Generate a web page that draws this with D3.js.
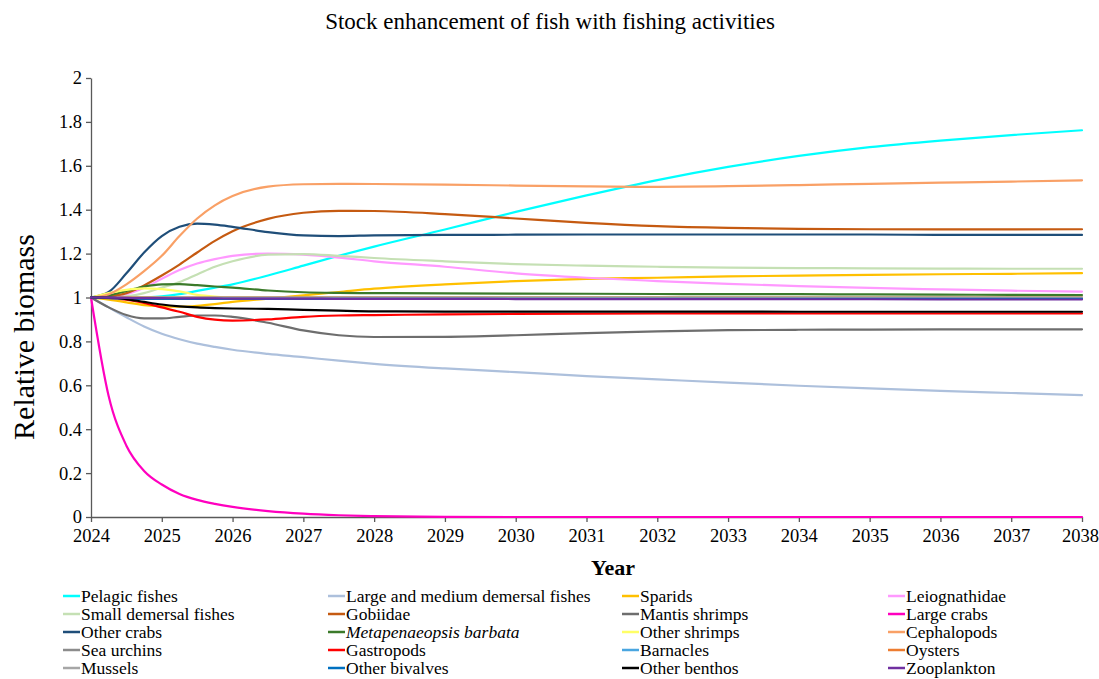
<!DOCTYPE html>
<html><head><meta charset="utf-8">
<script src="https://cdn.jsdelivr.net/npm/d3@7"></script>
<style>
body{margin:0;background:#fff}
svg{display:block}
svg text{font-family:"Liberation Serif","Times New Roman",Times,serif}
</style>
</head><body>
<svg id="c" width="1099" height="679"></svg>
<script>
const years = [2024, 2024.25, 2024.5, 2024.75, 2025, 2025.25, 2025.5, 2025.75, 2026, 2026.5, 2027, 2027.5, 2028, 2029, 2030, 2031, 2032, 2033, 2034, 2035, 2036, 2037, 2038];
const xTicks = [2024,2025,2026,2027,2028,2029,2030,2031,2032,2033,2034,2035,2036,2037,2038];
const yTicks = [0,0.2,0.4,0.6,0.8,1,1.2,1.4,1.6,1.8,2];

const pelagicFishes = [1, 0.998, 0.997, 1.0, 1.005, 1.015, 1.03, 1.045, 1.06, 1.1, 1.145, 1.19, 1.232, 1.31, 1.39, 1.465, 1.535, 1.595, 1.645, 1.685, 1.715, 1.74, 1.762];
const largeMediumDemersal = [1, 0.955, 0.91, 0.868, 0.835, 0.81, 0.79, 0.775, 0.762, 0.743, 0.728, 0.712, 0.698, 0.677, 0.66, 0.642, 0.627, 0.612, 0.598, 0.586, 0.575, 0.565, 0.555];
const sparids = [1, 0.99, 0.978, 0.965, 0.96, 0.958, 0.962, 0.97, 0.98, 0.995, 1.01, 1.025, 1.04, 1.06, 1.075, 1.085, 1.09, 1.096, 1.1, 1.103, 1.106, 1.108, 1.111];
const leiognathidae = [1, 1.002, 1.015, 1.045, 1.085, 1.125, 1.155, 1.175, 1.19, 1.2, 1.195, 1.182, 1.165, 1.14, 1.11, 1.09, 1.075, 1.062, 1.052, 1.044, 1.037, 1.031, 1.027];
const smallDemersal = [1, 1.0, 1.005, 1.02, 1.045, 1.07, 1.105, 1.14, 1.165, 1.195, 1.198, 1.19, 1.18, 1.165, 1.152, 1.145, 1.14, 1.136, 1.134, 1.133, 1.132, 1.131, 1.131];
const gobiidae = [1, 1.005, 1.02, 1.055, 1.1, 1.15, 1.205, 1.258, 1.302, 1.358, 1.386, 1.395, 1.394, 1.38, 1.36, 1.34, 1.325, 1.317, 1.313, 1.311, 1.31, 1.31, 1.311];
const mantisShrimps = [1, 0.955, 0.92, 0.905, 0.905, 0.912, 0.918, 0.918, 0.912, 0.885, 0.85, 0.828, 0.82, 0.821, 0.828, 0.838, 0.846, 0.851, 0.853, 0.854, 0.855, 0.855, 0.855];
const largeCrabs = [1, 0.55, 0.325, 0.21, 0.148, 0.105, 0.078, 0.06, 0.046, 0.027, 0.015, 0.008, 0.004, 0.001, 0, 0, 0, 0, 0, 0, 0, 0, 0];
const otherCrabs = [1, 1.025, 1.11, 1.205, 1.28, 1.322, 1.337, 1.332, 1.322, 1.298, 1.283, 1.28, 1.283, 1.285, 1.286, 1.287, 1.287, 1.287, 1.287, 1.287, 1.285, 1.285, 1.285];
const metapenaeopsis = [1, 1.01, 1.03, 1.05, 1.06, 1.061, 1.056, 1.05, 1.045, 1.032, 1.024, 1.021, 1.02, 1.019, 1.018, 1.017, 1.016, 1.015, 1.015, 1.014, 1.013, 1.012, 1.011];
const otherShrimps = [1, 1.02, 1.035, 1.042, 1.038, 1.028, 1.012, 1.004, 1.0, 1.0, 0.999, 0.999, 0.999, 0.999, 0.998, 0.998, 0.998, 0.998, 0.998, 0.998, 0.998, 0.998, 0.998];
const cephalopods = [1, 1.015, 1.06, 1.12, 1.19, 1.28, 1.36, 1.42, 1.462, 1.505, 1.516, 1.518, 1.517, 1.514, 1.51, 1.506, 1.504, 1.507, 1.512, 1.518, 1.523, 1.528, 1.534];
const seaUrchins = [1, 1.0, 1.0, 1.0, 1.0, 1.0, 1.0, 1.0, 1.0, 1.0, 1.0, 1.0, 1.0, 1.0, 1.0, 1.0, 1.0, 1.0, 1.0, 1.0, 1.0, 1.0, 1.0];
const gastropods = [1, 0.998, 0.99, 0.975, 0.955, 0.935, 0.912, 0.899, 0.895, 0.9, 0.912, 0.918, 0.92, 0.923, 0.925, 0.926, 0.927, 0.927, 0.927, 0.927, 0.927, 0.927, 0.927];
const barnacles = [1, 0.998, 0.997, 0.996, 0.996, 0.996, 0.996, 0.996, 0.996, 0.996, 0.996, 0.996, 0.996, 0.996, 0.996, 0.996, 0.996, 0.996, 0.996, 0.996, 0.996, 0.996, 0.996];
const oysters = [1, 1.0, 1.001, 1.001, 1.0, 1.0, 1.0, 1.0, 1.0, 1.0, 1.0, 1.0, 1.0, 1.0, 1.0, 1.0, 1.0, 1.0, 1.0, 1.0, 1.0, 1.0, 1.0];
const mussels = [1, 0.999, 0.999, 0.999, 0.999, 0.999, 0.999, 0.999, 0.999, 0.999, 0.999, 0.999, 0.999, 0.999, 0.999, 0.999, 0.999, 0.999, 0.999, 0.999, 0.999, 0.999, 0.999];
const otherBivalves = [1, 0.997, 0.995, 0.994, 0.994, 0.994, 0.994, 0.994, 0.994, 0.994, 0.994, 0.994, 0.994, 0.994, 0.994, 0.994, 0.994, 0.994, 0.994, 0.994, 0.994, 0.994, 0.994];
const otherBenthos = [1, 1.0, 0.993, 0.98, 0.968, 0.96, 0.955, 0.952, 0.95, 0.948, 0.944, 0.94, 0.937, 0.936, 0.936, 0.936, 0.936, 0.936, 0.935, 0.935, 0.935, 0.935, 0.935];
const zooplankton = [1, 0.999, 0.998, 0.997, 0.997, 0.996, 0.996, 0.996, 0.995, 0.995, 0.995, 0.994, 0.994, 0.994, 0.993, 0.993, 0.993, 0.993, 0.992, 0.992, 0.991, 0.991, 0.991];

const seriesNames = ["Pelagic fishes","Large and medium demersal fishes","Sparids","Leiognathidae","Small demersal fishes","Gobiidae","Mantis shrimps","Large crabs","Other crabs","Metapenaeopsis barbata","Other shrimps","Cephalopods","Sea urchins","Gastropods","Barnacles","Oysters","Mussels","Other bivalves","Other benthos","Zooplankton"];
const seriesValues = [pelagicFishes, largeMediumDemersal, sparids, leiognathidae, smallDemersal, gobiidae, mantisShrimps, largeCrabs, otherCrabs, metapenaeopsis, otherShrimps, cephalopods, seaUrchins, gastropods, barnacles, oysters, mussels, otherBivalves, otherBenthos, zooplankton];
const seriesColors = ["#00ffff","#adc0dc","#ffc000","#ff99ff","#c5e0b4","#c55a11","#6e6e6e","#ff00bf","#1f4e79","#3b7a2a","#ffff66","#f9a066","#8c8c8c","#ff0000","#4aa6e0","#ed7d31","#a6a6a6","#0070c0","#000000","#7030a0"];

const SERIF = '"Liberation Serif", "Times New Roman", Times, serif';
const svg = d3.select("#c").attr("font-family", SERIF);
const x = d3.scaleLinear().domain([2024, 2038]).range([91, 1082]);
const y = d3.scaleLinear().domain([0, 2]).range([517, 78]);

// title
svg.append("text").attr("x", 550).attr("y", 29).attr("text-anchor", "middle")
  .attr("font-size", 23)
  .text("Stock enhancement of fish with fishing activities");

// axes
const axisColor = "#595959";
const gy = svg.append("g").attr("transform", "translate(91,0)")
  .call(d3.axisLeft(y).tickValues(yTicks).tickSize(5).tickSizeOuter(0).tickPadding(4)
    .tickFormat(d => String(+d.toFixed(1))));
const gx = svg.append("g").attr("transform", "translate(0,517)")
  .call(d3.axisBottom(x).tickValues(xTicks).tickSize(5).tickSizeOuter(0).tickPadding(7)
    .tickFormat(d3.format("d")));
[gx, gy].forEach(g => {
  g.attr("font-family", null).attr("font-size", null);
  g.select(".domain").attr("stroke", axisColor).attr("stroke-width", 1.3);
  g.selectAll(".tick line").attr("stroke", axisColor).attr("stroke-width", 1.3);
  g.selectAll(".tick text").style("font-family", SERIF).style("font-size", "18.5px").attr("fill", "#000");
});
gx.selectAll(".tick text").filter(d => d === 2038).attr("dx", -2);

// axis titles
svg.append("text").attr("transform", "translate(34,337) rotate(-90)").attr("text-anchor", "middle")
  .attr("font-size", 30).text("Relative biomass");
svg.append("text").attr("x", 613).attr("y", 575).attr("text-anchor", "middle")
  .attr("font-size", 22).attr("font-weight", "bold").text("Year");

// lines
const line = d3.line().x((d, i) => x(years[i])).y(d => y(d)).curve(d3.curveMonotoneX);
const plot = svg.append("g");
seriesValues.forEach((vals, k) => {
  plot.append("path").attr("d", line(vals)).attr("fill", "none")
    .attr("stroke", seriesColors[k]).attr("stroke-width", 2.2)
    .attr("stroke-linejoin", "round").attr("stroke-linecap", "round");
});

// legend
const colX = [63, 328, 622, 888];
const rowY = [596, 614, 632, 650, 668];
const leg = svg.append("g");
seriesNames.forEach((name, k) => {
  const c = k % 4, r = Math.floor(k / 4);
  const lx = colX[c], ly = rowY[r];
  leg.append("line").attr("x1", lx).attr("x2", lx + 17).attr("y1", ly).attr("y2", ly)
    .attr("stroke", seriesColors[k]).attr("stroke-width", 2.5);
  leg.append("text").attr("x", lx + 18).attr("y", ly + 6)
    .attr("font-size", 17.5)
    .attr("font-style", name === "Metapenaeopsis barbata" ? "italic" : "normal")
    .text(name);
});
</script>
</body></html>
